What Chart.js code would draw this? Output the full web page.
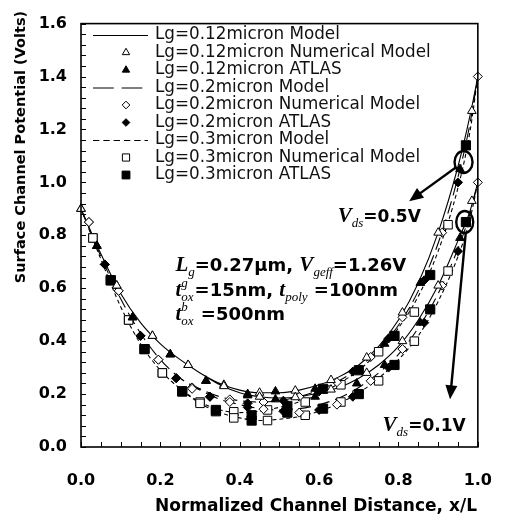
<!DOCTYPE html>
<html>
<head>
<meta charset="utf-8">
<script src="https://cdn.jsdelivr.net/npm/chart.js@4.4.0/dist/chart.umd.min.js"></script>
<style>
  html, body { margin: 0; padding: 0; background: #fff; }
  #wrap { width: 516px; height: 520px; }
</style>
</head>
<body>
<div id="wrap"><canvas id="chart" width="516" height="520"></canvas></div>
<script>
// Surface channel potential along the channel, Vds = 0.5 V and 0.1 V
// -----------------------------------------------------------------

// axis ticks
const xTicks = [0, 0.2, 0.4, 0.6, 0.8, 1.0];
const yTicks = [0, 0.2, 0.4, 0.6, 0.8, 1.0, 1.2, 1.4, 1.6];

// model curves
const modelX  = [0, 0.05, 0.1, 0.15, 0.2, 0.25, 0.3, 0.35, 0.4, 0.45, 0.5, 0.55, 0.6, 0.65, 0.7, 0.75, 0.8, 0.85, 0.9, 0.95, 0.98, 1.0];
const model12_05 = [0.90, 0.73, 0.58, 0.47, 0.39, 0.33, 0.28, 0.24, 0.215, 0.205, 0.205, 0.215, 0.235, 0.265, 0.31, 0.38, 0.48, 0.62, 0.81, 1.06, 1.25, 1.40];
const model12_01 = [0.90, 0.73, 0.58, 0.47, 0.39, 0.33, 0.28, 0.235, 0.205, 0.19, 0.185, 0.19, 0.205, 0.225, 0.26, 0.31, 0.38, 0.48, 0.61, 0.78, 0.89, 1.00];
const model20_05 = [0.90, 0.72, 0.56, 0.43, 0.33, 0.26, 0.22, 0.19, 0.175, 0.17, 0.175, 0.19, 0.215, 0.25, 0.30, 0.37, 0.46, 0.59, 0.77, 1.02, 1.22, 1.40];
const model20_01 = [0.90, 0.72, 0.56, 0.43, 0.33, 0.26, 0.215, 0.18, 0.16, 0.145, 0.14, 0.145, 0.16, 0.185, 0.225, 0.28, 0.35, 0.45, 0.58, 0.75, 0.88, 1.00];
const model30_05 = [0.90, 0.71, 0.53, 0.39, 0.29, 0.22, 0.17, 0.14, 0.13, 0.135, 0.15, 0.17, 0.20, 0.24, 0.29, 0.36, 0.45, 0.57, 0.74, 0.98, 1.19, 1.40];
const model30_01 = [0.90, 0.71, 0.53, 0.39, 0.29, 0.22, 0.165, 0.13, 0.11, 0.10, 0.105, 0.115, 0.135, 0.165, 0.205, 0.26, 0.33, 0.42, 0.55, 0.72, 0.86, 1.00];

// numerical model points (open markers)
const numX12  = [0, 0.09, 0.18, 0.27, 0.36, 0.45, 0.54, 0.63, 0.72, 0.81, 0.90, 0.985];
const num12_05 = [0.90, 0.61, 0.42, 0.31, 0.235, 0.205, 0.213, 0.253, 0.338, 0.508, 0.81, 1.27];
const num12_01 = [0.90, 0.61, 0.42, 0.31, 0.23, 0.19, 0.188, 0.217, 0.28, 0.40, 0.61, 0.93];
const numX20  = [0.02, 0.095, 0.195, 0.28, 0.375, 0.46, 0.55, 0.645, 0.73, 0.81, 0.91, 1.0];
const num20_05 = [0.85, 0.59, 0.33, 0.225, 0.18, 0.17, 0.19, 0.245, 0.34, 0.49, 0.81, 1.40];
const num20_01 = [0.85, 0.59, 0.33, 0.22, 0.17, 0.143, 0.13, 0.16, 0.25, 0.37, 0.61, 1.00];
const numX30  = [0.03, 0.12, 0.205, 0.30, 0.385, 0.47, 0.565, 0.655, 0.75, 0.84, 0.925];
const num30_05 = [0.79, 0.48, 0.28, 0.17, 0.133, 0.14, 0.17, 0.235, 0.36, 0.51, 0.84];
const num30_01 = [0.79, 0.48, 0.28, 0.165, 0.11, 0.10, 0.12, 0.17, 0.25, 0.40, 0.665];

// ATLAS simulation points (filled markers)
const atlX12  = [0.04, 0.13, 0.225, 0.315, 0.42, 0.49, 0.59, 0.695, 0.765, 0.855, 0.955];
const atl12_05 = [0.76, 0.49, 0.35, 0.25, 0.20, 0.21, 0.22, 0.29, 0.39, 0.62, 1.05];
const atl12_01 = [0.76, 0.49, 0.35, 0.25, 0.195, 0.18, 0.19, 0.24, 0.31, 0.47, 0.79];
const atlX20  = [0.06, 0.15, 0.24, 0.325, 0.42, 0.51, 0.60, 0.685, 0.775, 0.865, 0.95];
const atl20_05 = [0.69, 0.42, 0.26, 0.19, 0.165, 0.175, 0.21, 0.285, 0.41, 0.63, 1.00];
const atl20_01 = [0.69, 0.42, 0.26, 0.19, 0.15, 0.135, 0.14, 0.19, 0.30, 0.47, 0.74];
const atlX30  = [0.075, 0.16, 0.255, 0.34, 0.43, 0.52, 0.61, 0.70, 0.79, 0.88, 0.97];
const atl30_05 = [0.63, 0.37, 0.21, 0.14, 0.12, 0.155, 0.22, 0.29, 0.42, 0.65, 1.14];
const atl30_01 = [0.63, 0.37, 0.21, 0.135, 0.10, 0.13, 0.145, 0.20, 0.31, 0.52, 0.85];

// join the two Vds branches into one dataset, with a gap between them
function branches(xs, a, b, gap) {
  const pts = xs.map((x, i) => ({ x: x, y: a[i] }));
  if (gap) pts.push({ x: 1, y: null });
  return pts.concat(xs.map((x, i) => ({ x: x, y: b[i] })));
}

function modelSet(label, a, b, dash) {
  return {
    label: label, data: branches(modelX, a, b, true), showLine: true,
    borderColor: '#000', borderWidth: 1.1, borderDash: dash, pointRadius: 0,
    cubicInterpolationMode: 'monotone', spanGaps: false, order: 2
  };
}
function markerSet(label, xs, a, b, style, r, filled) {
  return {
    label: label, data: branches(xs, a, b, false), showLine: false,
    pointStyle: style, pointRadius: r, pointBorderWidth: 1,
    pointBorderColor: '#000', pointBackgroundColor: filled ? '#000' : '#fff',
    clip: 10, order: 1
  };
}

const datasets = [
  modelSet('Lg=0.12micron Model', model12_05, model12_01, []),
  markerSet('Lg=0.12micron Numerical Model', numX12, num12_05, num12_01, 'triangle', 5, false),
  markerSet('Lg=0.12micron ATLAS', atlX12, atl12_05, atl12_01, 'triangle', 5, true),
  modelSet('Lg=0.2micron Model', model20_05, model20_01, [13, 6]),
  markerSet('Lg=0.2micron Numerical Model', numX20, num20_05, num20_01, 'rectRot', 4.5, false),
  markerSet('Lg=0.2micron ATLAS', atlX20, atl20_05, atl20_01, 'rectRot', 4.5, true),
  modelSet('Lg=0.3micron Model', model30_05, model30_01, [4, 3]),
  markerSet('Lg=0.3micron Numerical Model', numX30, num30_05, num30_01, 'rect', 6, false),
  markerSet('Lg=0.3micron ATLAS', atlX30, atl30_05, atl30_01, 'rect', 6.5, true)
];

const tickFont = { family: 'DejaVu Sans', size: 16, weight: 'bold' };

// small marker shapes for the legend
function shape(ctx, style, r, x, y, fill) {
  ctx.beginPath();
  if (style === 'triangle') {
    ctx.moveTo(x, y - r); ctx.lineTo(x + r * 0.866, y + r / 2); ctx.lineTo(x - r * 0.866, y + r / 2);
  } else if (style === 'rectRot') {
    ctx.moveTo(x - r, y); ctx.lineTo(x, y - r); ctx.lineTo(x + r, y); ctx.lineTo(x, y + r);
  } else {
    const s = r * Math.SQRT1_2;
    ctx.rect(x - s, y - s, 2 * s, 2 * s);
  }
  ctx.closePath();
  ctx.fillStyle = fill; ctx.fill(); ctx.stroke();
}

// text made of pieces with different fonts (sub/superscripts)
function rich(ctx, x, y, segs) {
  ctx.textAlign = 'left'; ctx.textBaseline = 'alphabetic'; ctx.fillStyle = '#000';
  segs.forEach(s => {
    ctx.font = s.f;
    if (s.sub !== undefined) {
      const w = Math.max(ctx.measureText(s.sup || '').width, ctx.measureText(s.sub).width);
      if (s.sup) ctx.fillText(s.sup, x, y - 9);
      ctx.fillText(s.sub, x, y + 5);
      x += w + 1;
    } else {
      ctx.fillText(s.t, x, y + (s.dy || 0));
      x += ctx.measureText(s.t).width;
    }
  });
}

function arrow(ctx, x1, y1, x2, y2) {
  const a = Math.atan2(y2 - y1, x2 - x1), head = 14, w = 6;
  ctx.beginPath();
  ctx.moveTo(x1, y1);
  ctx.lineTo(x2 - Math.cos(a) * head * 0.8, y2 - Math.sin(a) * head * 0.8);
  ctx.stroke();
  ctx.beginPath();
  ctx.moveTo(x2, y2);
  ctx.lineTo(x2 - head * Math.cos(a) + w * Math.sin(a), y2 - head * Math.sin(a) - w * Math.cos(a));
  ctx.lineTo(x2 - head * Math.cos(a) - w * Math.sin(a), y2 - head * Math.sin(a) + w * Math.cos(a));
  ctx.closePath();
  ctx.fill();
}

const BI = 'italic bold 21px "Liberation Serif"';
const SUB = 'italic 13px "Liberation Serif"';
const B = 'bold 18px "DejaVu Sans"';
const B2 = 'bold 17px "DejaVu Sans"';

// frame, inward ticks, axis titles, legend, notes
const decor = {
  id: 'decor',
  afterDraw(chart) {
    const { ctx, chartArea: a, scales: { x, y } } = chart;
    ctx.save();
    ctx.strokeStyle = '#000';
    ctx.lineWidth = 1.6;
    ctx.strokeRect(a.left, a.top, a.right - a.left, a.bottom - a.top);

    // inward minor ticks
    ctx.lineWidth = 1;
    ctx.beginPath();
    for (let i = 0; i <= 40; i++) {
      const py = Math.round(y.getPixelForValue(i * 0.04)) + 0.5;
      ctx.moveTo(a.left, py); ctx.lineTo(a.left + 5, py);
    }
    for (let i = 0; i <= 20; i++) {
      const px = Math.round(x.getPixelForValue(i * 0.05)) + 0.5;
      ctx.moveTo(px, a.bottom); ctx.lineTo(px, a.bottom - 5);
    }
    ctx.stroke();

    // axis titles
    ctx.fillStyle = '#000';
    ctx.textAlign = 'center'; ctx.textBaseline = 'middle';
    ctx.font = 'bold 17px "DejaVu Sans"';
    ctx.fillText('Normalized Channel Distance, x/L', 316, 507);
    ctx.save();
    ctx.translate(21, 147);
    ctx.rotate(-Math.PI / 2);
    ctx.font = 'bold 14.5px "DejaVu Sans"';
    ctx.fillText('Surface Channel Potential (Volts)', 0, 0);
    ctx.restore();

    // legend
    ctx.font = '16.8px "DejaVu Sans"';
    ctx.textAlign = 'left'; ctx.textBaseline = 'middle';
    chart.data.datasets.forEach((ds, i) => {
      const ry = 35 + i * 17.5;
      ctx.strokeStyle = '#000'; ctx.lineWidth = 1;
      if (ds.showLine) {
        ctx.setLineDash(ds.borderDash.length ? [ds.borderDash[0] * 1.6, ds.borderDash[1] * 1.3] : []);
        ctx.beginPath(); ctx.moveTo(93, ry + 0.5); ctx.lineTo(148, ry + 0.5); ctx.stroke();
        ctx.setLineDash([]);
      } else {
        shape(ctx, ds.pointStyle, ds.pointRadius * 0.85, 126, ry, ds.pointBackgroundColor);
      }
      ctx.fillStyle = '#111';
      ctx.fillText(ds.label, 155, ry);
    });

    // parameter text block
    const tx = x.getPixelForValue(0.238);
    rich(ctx, tx, y.getPixelForValue(0.664), [
      { t: 'L', f: BI }, { t: 'g', f: SUB, dy: 5 }, { t: '=0.27\u03bcm, ', f: B },
      { t: 'V', f: BI }, { t: 'geff', f: SUB, dy: 5 }, { t: '=1.26V', f: B }
    ]);
    rich(ctx, tx, y.getPixelForValue(0.571), [
      { t: 't', f: BI }, { sup: 'g', sub: 'ox', f: SUB }, { t: '=15nm, ', f: B },
      { t: 't', f: BI }, { t: 'poly', f: SUB, dy: 5 }, { t: ' =100nm', f: B }
    ]);
    rich(ctx, tx, y.getPixelForValue(0.479), [
      { t: 't', f: BI }, { sup: 'b', sub: 'ox', f: SUB }, { t: ' =500nm', f: B }
    ]);
    rich(ctx, x.getPixelForValue(0.647), y.getPixelForValue(0.852), [
      { t: 'V', f: BI }, { t: 'ds', f: SUB, dy: 5 }, { t: '=0.5V', f: B2 }
    ]);
    rich(ctx, x.getPixelForValue(0.76), y.getPixelForValue(0.059), [
      { t: 'V', f: BI }, { t: 'ds', f: SUB, dy: 5 }, { t: '=0.1V', f: B2 }
    ]);

    // circles and arrows
    ctx.strokeStyle = '#000'; ctx.fillStyle = '#000'; ctx.lineWidth = 2.4;
    const c1x = x.getPixelForValue(0.964), c1y = y.getPixelForValue(1.077);
    const c2x = x.getPixelForValue(0.967), c2y = y.getPixelForValue(0.85);
    ctx.beginPath(); ctx.ellipse(c1x, c1y, 9, 11, 0, 0, Math.PI * 2); ctx.stroke();
    ctx.beginPath(); ctx.ellipse(c2x, c2y, 8.5, 11, 0, 0, Math.PI * 2); ctx.stroke();
    const t1x = x.getPixelForValue(0.827), t1y = y.getPixelForValue(0.929);
    const d1 = Math.atan2(t1y - c1y, t1x - c1x);
    arrow(ctx, c1x + Math.cos(d1) * 10, c1y + Math.sin(d1) * 10, t1x, t1y);
    arrow(ctx, c2x + 1, c2y + 11, x.getPixelForValue(0.93), y.getPixelForValue(0.18));
    ctx.restore();
  }
};

new Chart(document.getElementById('chart'), {
  type: 'scatter',
  data: { datasets: datasets },
  options: {
    responsive: false,
    animation: false,
    devicePixelRatio: 1,
    layout: { padding: { left: 0, right: 19, top: 13, bottom: 0 } },
    plugins: { legend: { display: false }, tooltip: { enabled: false } },
    scales: {
      x: {
        type: 'linear', min: 0, max: 1,
        afterBuildTicks: s => { s.ticks = xTicks.map(v => ({ value: v })); },
        afterFit: s => { s.height = 73; },
        ticks: { padding: 24, color: '#000', font: tickFont, maxRotation: 0, callback: v => v.toFixed(1) },
        grid: { display: false, drawTicks: false },
        border: { display: false }
      },
      y: {
        min: 0, max: 1.6,
        afterBuildTicks: s => { s.ticks = yTicks.map(v => ({ value: v })); },
        afterFit: s => { s.width = 81; },
        ticks: { padding: 14, color: '#000', font: tickFont, callback: v => v.toFixed(1) },
        grid: { display: false, drawTicks: false },
        border: { display: false }
      }
    }
  },
  plugins: [decor]
});
</script>
</body>
</html>
